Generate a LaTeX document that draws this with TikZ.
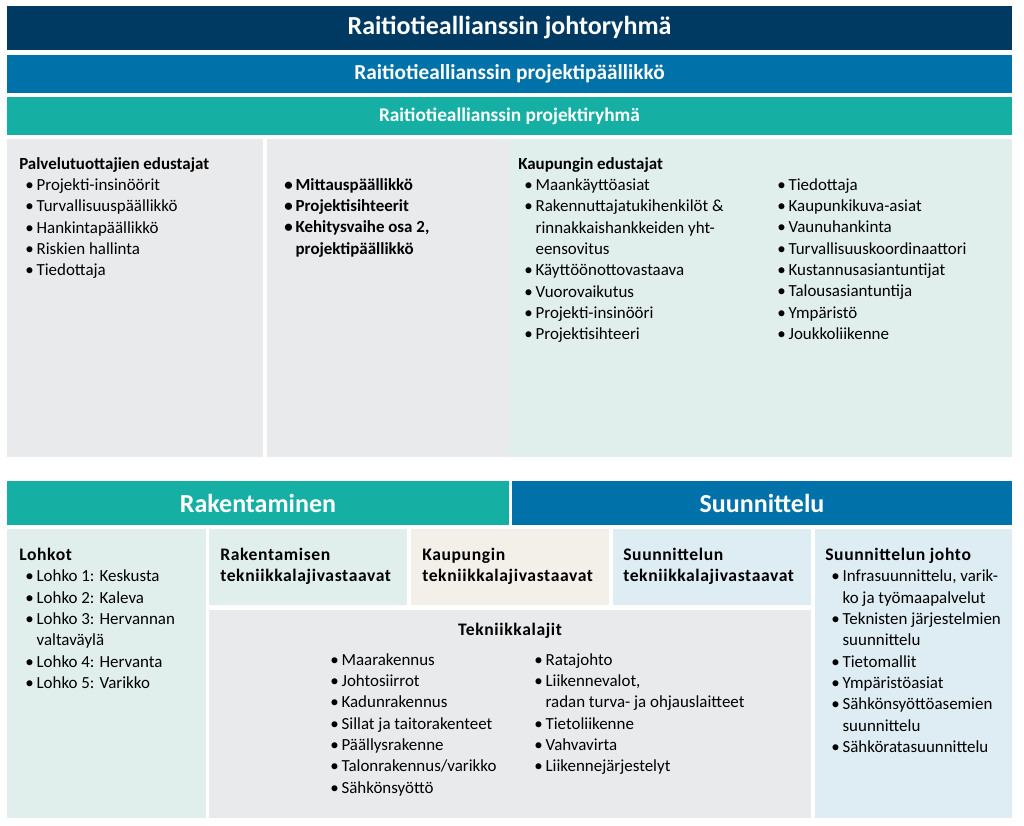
\documentclass[tikz,border=0pt]{standalone}
\usepackage{fontspec}
\setmainfont{Carlito}
\newfontfamily\headfont[LetterSpace=3.5]{Carlito}
\usetikzlibrary{positioning}
\definecolor{navybar}{HTML}{003A63}
\definecolor{bluebar}{HTML}{0071A9}
\definecolor{tealbar}{HTML}{15AFA4}
\definecolor{greypanel}{HTML}{E9EAEC}
\definecolor{greenpanel}{HTML}{E1EFEC}
\definecolor{creampanel}{HTML}{F3F0E9}
\definecolor{bluepanel}{HTML}{DEECF3}
\newcommand{\itm}{\hspace*{4.5pt}\makebox[8.5pt][l]{\textbullet}}
\newcommand{\cnt}{\hspace*{13pt}}
\newcommand{\lowhead}[1]{{\headfont\bfseries\fontsize{13.2}{16}\selectfont #1}}

\begin{document}
\begin{tikzpicture}[x=0.75pt,y=-0.75pt,
  bartext/.style={text=white,font=\bfseries\fontsize{#1}{#1}\selectfont,inner sep=0},
  list/.style={anchor=north west,align=left,inner sep=0,
    font=\fontsize{12.7}{16}\selectfont,execute at begin node=\strut},
  blist/.style={list,font=\bfseries\fontsize{12.7}{16}\selectfont},
  hlist/.style={list,font=\headfont\bfseries\fontsize{13.2}{16}\selectfont}]
  \useasboundingbox (0,0) rectangle (1024,825);
  % upper organisation
  \fill[navybar] (7,6) rectangle (1012,50);
  \fill[bluebar] (7,55) rectangle (1012,93);
  \fill[tealbar] (7,97) rectangle (1012,135);
  \fill[greypanel] (7,139) rectangle (263,457);
  \fill[greypanel] (267,139) rectangle (509,457);
  \fill[greenpanel] (509,139) rectangle (1012,457);
  \node[bartext=19.5] (johto) at (509.5,28) {Raitiotieallianssin johtoryhmä};
  \node[bartext=16] (ppaal) at (509.5,74) {Raitiotieallianssin projektipäällikkö};
  \node[bartext=14.5] (pryhma) at (509.5,116) {Raitiotieallianssin projektiryhmä};
  \node[list] (palv) at (19,157) {\textbf{Palvelutuottajien edustajat}\\
    \itm Projekti-insinöörit\\ \itm Turvallisuuspäällikkö\\
    \itm Hankintapäällikkö\\ \itm Riskien hallinta\\ \itm Tiedottaja};
  \node[blist] (keski) at (278,178) {\itm Mittauspäällikkö\\ \itm Projektisihteerit\\
    \itm Kehitysvaihe osa 2,\\ \cnt projektipäällikkö};
  \node[list] (kaup) at (518,157) {\textbf{Kaupungin edustajat}\\
    \itm Maankäyttöasiat\\ \itm Rakennuttajatukihenkilöt \&\\
    \cnt rinnakkaishankkeiden yht-\\ \cnt eensovitus\\ \itm Käyttöönottovastaava\\
    \itm Vuorovaikutus\\ \itm Projekti-insinööri\\ \itm Projektisihteeri};
  \node[list] (kaup2) at (771,178) {\itm Tiedottaja\\ \itm Kaupunkikuva-asiat\\
    \itm Vaunuhankinta\\ \itm Turvallisuuskoordinaattori\\ \itm Kustannusasiantuntijat\\
    \itm Talousasiantuntija\\ \itm Ympäristö\\ \itm Joukkoliikenne};
  % lower organisation
  \fill[tealbar] (7,481) rectangle (509,525);
  \fill[bluebar] (512,481) rectangle (1012,525);
  \fill[greenpanel] (7,529) rectangle (206,818);
  \fill[greenpanel] (209,529) rectangle (407,605);
  \fill[creampanel] (411,529) rectangle (609,605);
  \fill[bluepanel] (613,529) rectangle (811,605);
  \fill[greypanel] (209,610) rectangle (811,818);
  \fill[bluepanel] (815,529) rectangle (1012,818);
  \node[bartext=19.5] (rak) at (258,503) {Rakentaminen};
  \node[bartext=19.5] (suun) at (762,503) {Suunnittelu};
  \node[list] (lohkot) at (19,548) {\lowhead{Lohkot}\\
    \itm Lohko 1: Keskusta\\ \itm Lohko 2: Kaleva\\
    \itm Lohko 3: Hervannan\\ \cnt valtaväylä\\ \itm Lohko 4: Hervanta\\ \itm Lohko 5: Varikko};
  \node[hlist] (rakvast) at (220,548) {Rakentamisen\\ tekniikkalajivastaavat};
  \node[hlist] (kaupvast) at (422,548) {Kaupungin\\ tekniikkalajivastaavat};
  \node[hlist] (suunvast) at (623,548) {Suunnittelun\\ tekniikkalajivastaavat};
  \node[hlist,anchor=base] (tekn) at (510,635) {Tekniikkalajit};
  \node[list] (tekn1) at (324,653) {\itm Maarakennus\\ \itm Johtosiirrot\\ \itm Kadunrakennus\\
    \itm Sillat ja taitorakenteet\\ \itm Päällysrakenne\\ \itm Talonrakennus/varikko\\ \itm Sähkönsyöttö};
  \node[list] (tekn2) at (528,653) {\itm Ratajohto\\ \itm Liikennevalot,\\
    \cnt radan turva- ja ohjauslaitteet\\ \itm Tietoliikenne\\ \itm Vahvavirta\\ \itm Liikennejärjestelyt};
  \node[list] (sjohto) at (825,548) {\lowhead{Suunnittelun johto}\\
    \itm Infrasuunnittelu, varik-\\ \cnt ko ja työmaapalvelut\\
    \itm Teknisten järjestelmien\\ \cnt suunnittelu\\ \itm Tietomallit\\ \itm Ympäristöasiat\\
    \itm Sähkönsyöttöasemien\\ \cnt suunnittelu\\ \itm Sähköratasuunnittelu};
\end{tikzpicture}
\end{document}
